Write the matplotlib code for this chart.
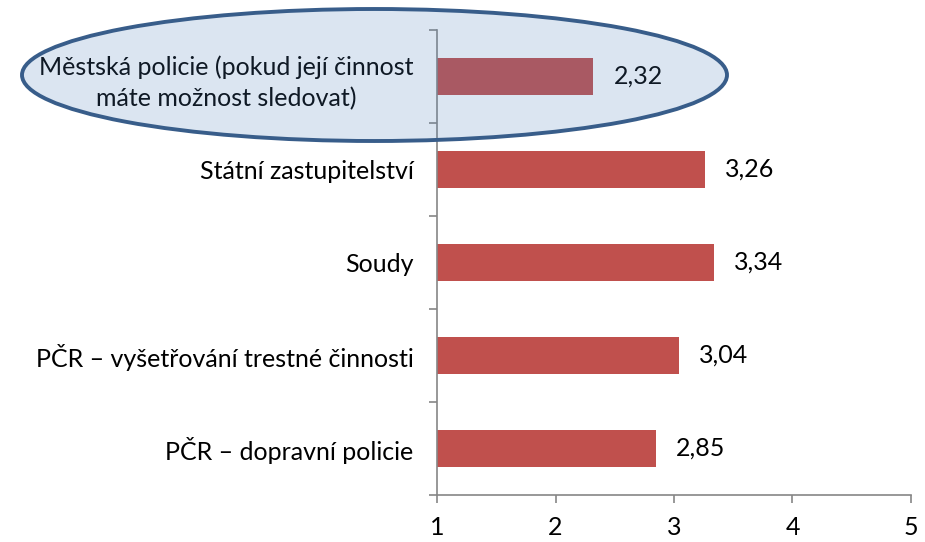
import matplotlib.pyplot as plt
from matplotlib.patches import Ellipse
from matplotlib.ticker import FixedLocator
import numpy as np

plt.rcParams['font.family'] = ['Lato', 'DejaVu Sans']

categories = [
    "Městská policie (pokud její činnost\nmáte možnost sledovat)",
    "Státní zastupitelství",
    "Soudy",
    "PČR – vyšetřování trestné činnosti",
    "PČR – dopravní policie",
]
values = [2.32, 3.26, 3.34, 3.04, 2.85]
x_ticks = [1, 2, 3, 4, 5]

bar_color = "#c0504d"
axis_color = "#868686"
fs = 18

fig = plt.figure(figsize=(9.25, 5.42), dpi=100)
ax = fig.add_axes([437 / 925, 1 - 495 / 542, 474 / 925, 465 / 542])

y = np.arange(len(categories))
ax.barh(y, values, height=0.4, color=bar_color, zorder=2)

for yi, v in zip(y, values):
    ax.text(v + 0.17, yi, f"{v:.2f}".replace(".", ","), va="center", ha="left",
            fontsize=fs, color="black")

ax.set_xlim(1, 5)
ax.set_ylim(len(categories) - 0.5, -0.5)
ax.set_xticks(x_ticks)
ax.set_xticklabels([str(t) for t in x_ticks], fontsize=fs)
ax.set_yticks(y)
ax.set_yticklabels(categories, fontsize=fs, multialignment="center", linespacing=1.45)
ax.yaxis.set_minor_locator(FixedLocator(np.arange(-0.5, len(categories), 1.0)))

ax.tick_params(axis="y", which="major", length=0, pad=17)
ax.tick_params(axis="y", which="minor", length=6, width=1.2, color=axis_color, direction="out")
ax.tick_params(axis="x", length=6, width=1.2, color=axis_color, direction="out", pad=9)

for side in ["top", "right"]:
    ax.spines[side].set_visible(False)
for side in ["left", "bottom"]:
    ax.spines[side].set_color(axis_color)
    ax.spines[side].set_linewidth(1.2)

# highlight around the first row
highlight = Ellipse((374.5 / 925, 1 - 75 / 542), 705 / 925, 132 / 542,
                    transform=fig.transFigure, facecolor=(0.31, 0.506, 0.741, 0.2),
                    edgecolor="#385d8a", linewidth=2.8, zorder=3)
fig.add_artist(highlight)

fig.savefig("out.png", dpi=100)
